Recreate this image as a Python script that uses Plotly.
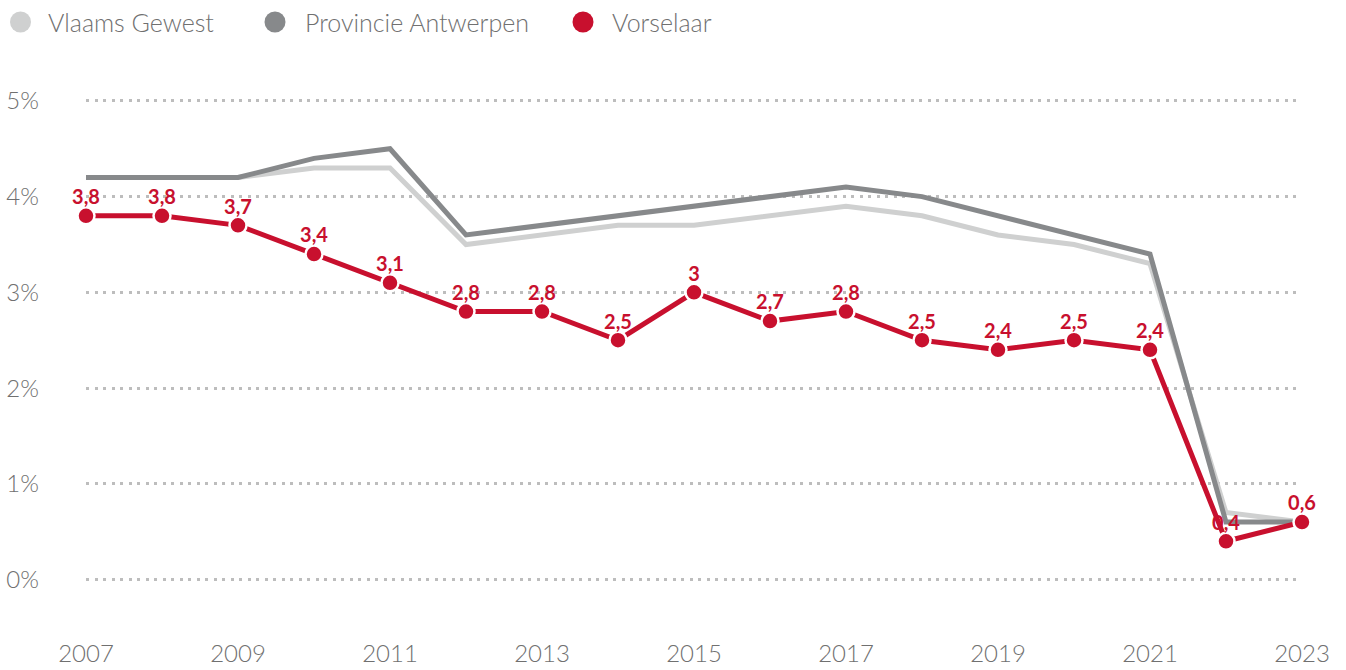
import plotly.graph_objects as go

years = list(range(2007, 2024))
vlaams = [4.2, 4.2, 4.2, 4.3, 4.3, 3.5, 3.6, 3.7, 3.7, 3.8, 3.9, 3.8, 3.6, 3.5, 3.3, 0.7, 0.6]
antwerpen = [4.2, 4.2, 4.2, 4.4, 4.5, 3.6, 3.7, 3.8, 3.9, 4.0, 4.1, 4.0, 3.8, 3.6, 3.4, 0.6, 0.6]
vorselaar = [3.8, 3.8, 3.7, 3.4, 3.1, 2.8, 2.8, 2.5, 3.0, 2.7, 2.8, 2.5, 2.4, 2.5, 2.4, 0.4, 0.6]
labels = [f"{v:g}".replace(".", ",") for v in vorselaar]
series_names = ["Vlaams Gewest", "Provincie Antwerpen", "Vorselaar"]
x_ticks = list(range(2007, 2024, 2))
y_ticks = [0, 1, 2, 3, 4, 5]
y_ticktext = [f"{v}%" for v in y_ticks]

C_LIGHT = "#cfd0d0"
C_DARK = "#87898b"
C_RED = "#c8102e"
C_TEXT = "#707070"
FONT = "Lato"

W, H = 1346, 670
ML, MR, MT, MB = 86, 44, 0, 32.5
PW, PH = W - ML - MR, H - MT - MB

fig = go.Figure()
fig.add_trace(go.Scatter(x=years, y=vlaams, mode="lines", line=dict(color=C_LIGHT, width=5),
                         name=series_names[0], showlegend=False, hoverinfo="skip", cliponaxis=False))
fig.add_trace(go.Scatter(x=years, y=antwerpen, mode="lines", line=dict(color=C_DARK, width=5),
                         name=series_names[1], showlegend=False, hoverinfo="skip", cliponaxis=False))
fig.add_trace(go.Scatter(x=years, y=vorselaar, mode="lines+markers",
                         name=series_names[2],
                         line=dict(color=C_RED, width=5),
                         marker=dict(size=17, color=C_RED, line=dict(color="white", width=2.5)),
                         showlegend=False, hoverinfo="skip", cliponaxis=False))
fig.add_trace(go.Scatter(x=years, y=vorselaar, mode="markers+text", text=labels,
                         textposition="top center",
                         textfont=dict(family=FONT, size=20, color=C_RED, weight="bold"),
                         marker=dict(size=9, opacity=0),
                         showlegend=False, hoverinfo="skip", cliponaxis=False))

# custom legend (circles + text) in pixel-based positions
legend_cx = [20.5, 275, 583]
legend_tx = [46, 303, 610]
legend_cy = 22
shapes, annots = [], []
for name, col, cx, tx in zip(series_names, [C_LIGHT, C_DARK, C_RED], legend_cx, legend_tx):
    xa = (cx - ML) / PW
    ya = (H - MB - legend_cy) / PH
    shapes.append(dict(type="circle", xref="paper", yref="paper", xsizemode="pixel", ysizemode="pixel",
                       xanchor=xa, yanchor=ya, x0=-10.5, x1=10.5, y0=-10.5, y1=10.5,
                       fillcolor=col, line=dict(width=0), layer="above"))
    annots.append(dict(text=name, xref="paper", yref="paper", x=(tx - ML) / PW, y=ya,
                       xanchor="left", yanchor="middle", showarrow=False,
                       font=dict(family=FONT, size=25, color=C_TEXT, weight=300)))

fig.update_layout(
    width=W, height=H,
    margin=dict(l=ML, r=MR, t=MT, b=MB, autoexpand=False),
    paper_bgcolor="white", plot_bgcolor="white",
    font=dict(family=FONT, color=C_TEXT, size=22),
    showlegend=False,
    hovermode=False,
    shapes=shapes, annotations=annots,
)
fig.update_xaxes(range=[2007, 2023], tickvals=x_ticks,
                 showgrid=False, zeroline=False, showline=False, ticks="",
                 tickfont=dict(family=FONT, size=24, color=C_TEXT, weight=300),
                 ticklabelstandoff=0)
fig.update_yaxes(range=[-0.6, 6.054], tickvals=y_ticks, ticktext=y_ticktext,
                 showgrid=True, gridcolor="#bdbdbd", gridwidth=2.5, griddash="3px,5.5px",
                 zeroline=False, showline=False, ticks="",
                 tickfont=dict(family=FONT, size=24, color=C_TEXT, weight=300),
                 ticklabelstandoff=46)

fig.write_html("out.html")
